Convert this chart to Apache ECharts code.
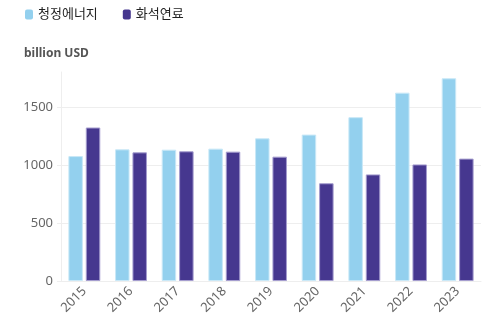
<!DOCTYPE html>
<html>
<head>
<meta charset="utf-8">
<script src="https://cdn.jsdelivr.net/npm/echarts@6/dist/echarts.min.js"></script>
<style>
  html, body { margin: 0; padding: 0; background: #fff; }
  #chart { width: 501px; height: 335px; }
</style>
</head>
<body>
<div id="chart"></div>
<script>
// Annual investment, clean energy vs fossil fuels (billion USD)
const years = ['2015', '2016', '2017', '2018', '2019', '2020', '2021', '2022', '2023'];
const cleanEnergy = [1076, 1134, 1131, 1140, 1229, 1261, 1411, 1622, 1746];
const fossilFuels = [1322, 1108, 1117, 1114, 1071, 842, 918, 1004, 1054];
const seriesNames = ['청정에너지', '화석연료'];
const yTicks = [0, 500, 1000, 1500];

const FONT = '"Noto Sans", "Noto Sans CJK KR", sans-serif';

const chart = echarts.init(document.getElementById('chart'), null, { renderer: 'canvas' });

chart.setOption({
  animation: false,
  textStyle: { fontFamily: FONT },
  legend: {
    left: 20,
    top: 3,
    icon: 'roundRect',
    itemWidth: 8,
    itemHeight: 10,
    itemGap: 25,
    itemStyle: { borderWidth: 0 },
    textStyle: { fontSize: 13, color: '#222', fontFamily: FONT },
    data: seriesNames
  },
  title: {
    text: 'billion USD',
    left: 19,
    top: 43,
    textStyle: { fontSize: 12, fontWeight: 'bold', color: '#555', fontFamily: FONT }
  },
  grid: { left: 61, right: 20, top: 72, bottom: 54 },
  xAxis: {
    type: 'category',
    data: years,
    axisLine: { lineStyle: { color: '#eeeeee' } },
    axisTick: { alignWithLabel: true, length: 4, lineStyle: { color: '#eeeeee' } },
    axisLabel: { rotate: 45, fontSize: 13, color: '#666', margin: 8, fontFamily: FONT }
  },
  yAxis: {
    type: 'value',
    min: yTicks[0],
    max: 1800,
    interval: yTicks[1] - yTicks[0],
    axisLine: { show: true, lineStyle: { color: '#eeeeee' } },
    axisTick: { show: true, length: 4, lineStyle: { color: '#eeeeee' } },
    axisLabel: {
      fontSize: 13, color: '#666', margin: 8, showMaxLabel: false, fontFamily: FONT,
      formatter: (v) => String(v)
    },
    splitLine: { show: true, showMaxLine: false, lineStyle: { color: '#eeeeee' } }
  },
  series: [
    {
      name: seriesNames[0],
      type: 'bar',
      data: cleanEnergy,
      barWidth: 14.5,
      barGap: '20%',
      itemStyle: { color: '#93d0ee', borderColor: '#c9e8f7', borderWidth: 1 }
    },
    {
      name: seriesNames[1],
      type: 'bar',
      data: fossilFuels,
      barWidth: 14.5,
      itemStyle: { color: '#46378f', borderColor: '#a59dcf', borderWidth: 1 }
    }
  ]
});
</script>
</body>
</html>
